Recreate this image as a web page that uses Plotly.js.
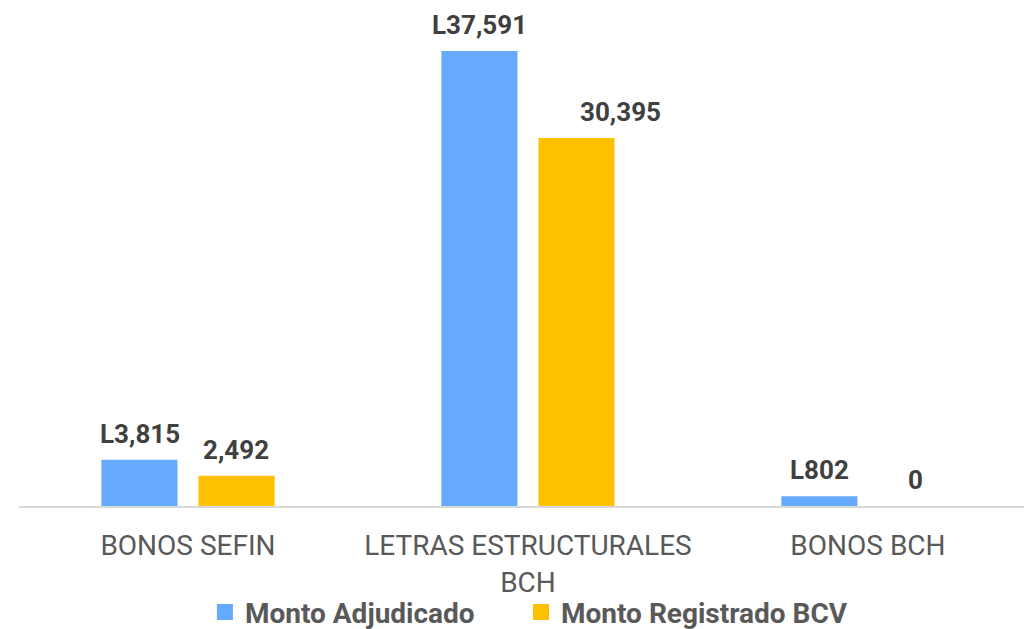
<!DOCTYPE html>
<html>
<head>
<meta charset="utf-8">
<script src="https://cdn.plot.ly/plotly-3.0.1.min.js"></script>
<style>html,body{margin:0;padding:0;background:#fff;}#chart{width:1024px;height:629px;}</style>
</head>
<body>
<div id="chart"></div>
<script>
const categories = ["BONOS SEFIN", "LETRAS ESTRUCTURALES<br>BCH", "BONOS BCH"];
const seriesNames = ["Monto Adjudicado", "Monto Registrado BCV"];
const adjudicado = [3815, 37591, 802];
const registrado = [2492, 30395, 0];
const adjudicadoLabels = ["L3,815", "L37,591", "L802"];
const registradoLabels = ["2,492", "30,395", "0"];
const colors = ["#66AAFF", "#FFC000"];

const barTraces = [
  {type: "bar", x: categories, y: adjudicado, name: seriesNames[0], marker: {color: colors[0]}, showlegend: false, hoverinfo: "none"},
  {type: "bar", x: categories, y: registrado, name: seriesNames[1], marker: {color: colors[1]}, showlegend: false, hoverinfo: "none"}
];
const legendIds = ["legend", "legend2"];
const legendTraces = seriesNames.map((n, i) => ({
  type: "scatter", mode: "markers", x: [null], y: [null], name: n, legend: legendIds[i],
  marker: {symbol: "square", size: 18, color: colors[i]}, hoverinfo: "none"
}));

const labelFont = {family: "Roboto, 'Noto Sans', sans-serif", size: 26, color: "#404040", weight: "bold"};
const annotations = [];
categories.forEach((c, i) => {
  annotations.push({x: c, y: adjudicado[i], text: "<b>" + adjudicadoLabels[i] + "</b>", showarrow: false,
    xref: "x", yref: "y", xshift: -48, yshift: 9, yanchor: "bottom", font: labelFont});
  annotations.push({x: c, y: registrado[i], text: "<b>" + registradoLabels[i] + "</b>", showarrow: false,
    xref: "x", yref: "y", xshift: i === 1 ? 93 : 48, yshift: 9, yanchor: "bottom", font: labelFont});
});

const legendFont = {family: "Roboto, 'Noto Sans', sans-serif", size: 28, color: "#595959", weight: "bold"};
const layout = {
  width: 1024, height: 629,
  margin: {l: 19, r: 0, t: 0, b: 122.5, autoexpand: false},
  paper_bgcolor: "#fff", plot_bgcolor: "#fff",
  barmode: "group", bargap: 0.429, bargroupgap: 0.216,
  showlegend: true,
  legend: {orientation: "h", x: 0.185, xanchor: "left", y: -0.21, yanchor: "middle",
    bgcolor: "rgba(0,0,0,0)", font: legendFont, itemclick: false},
  legend2: {orientation: "h", x: 0.4995, xanchor: "left", y: -0.21, yanchor: "middle",
    bgcolor: "rgba(0,0,0,0)", font: legendFont, itemclick: false},
  xaxis: {type: "category", range: [-0.497, 2.459], showline: true, linecolor: "#D9D9D9", linewidth: 1.5,
    showgrid: false, zeroline: false, ticks: "outside", ticklen: 14, tickcolor: "rgba(0,0,0,0)", automargin: false,
    tickfont: {family: "Roboto, 'Noto Sans', sans-serif", size: 28, color: "#595959"}, fixedrange: true},
  yaxis: {range: [0, 41800], visible: false, showgrid: false, zeroline: false, fixedrange: true, automargin: false},
  annotations: annotations
};

Plotly.newPlot("chart", barTraces.concat(legendTraces), layout, {displayModeBar: false, staticPlot: true});
</script>
</body>
</html>
